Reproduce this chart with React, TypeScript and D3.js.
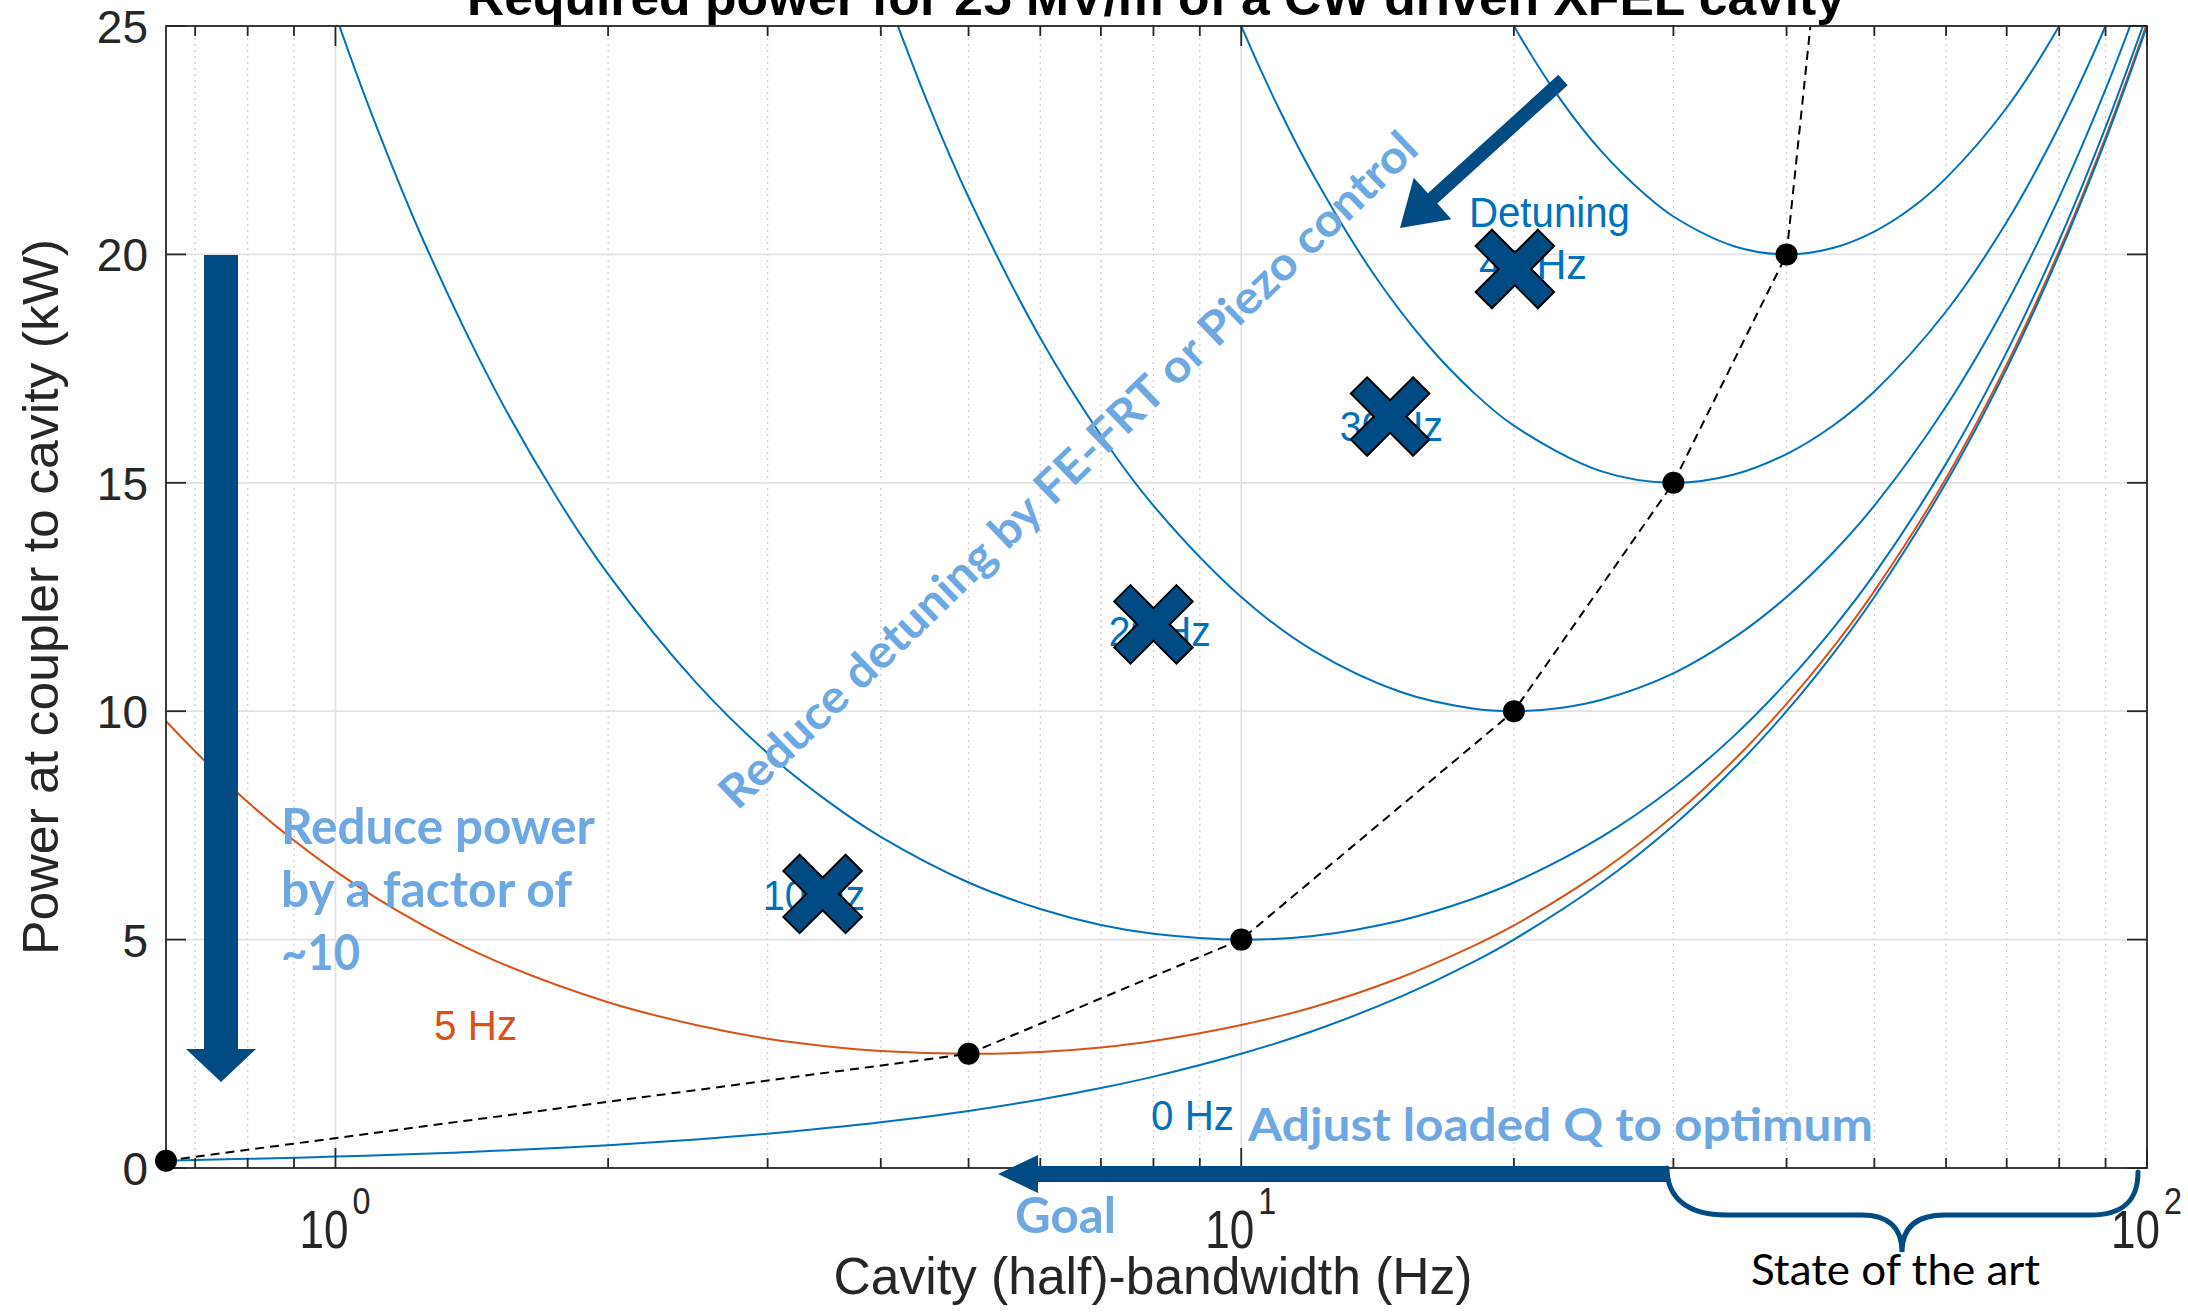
import React from 'react';
import * as d3 from 'd3';

const W = 2188;
const H = 1312;
const M = { left: 166, right: 2147, top: 26, bottom: 1168 };

// axes
const xDomain: [number, number] = [0.65, 100];
const yDomain: [number, number] = [0, 25];
const yTicks = [0, 5, 10, 15, 20, 25];
const xMajorTicks = [1, 10, 100];
const xMajorExp = ['0', '1', '2'];
const xMinorTicks = [0.7, 0.8, 0.9, 2, 3, 4, 5, 6, 7, 8, 9, 20, 30, 40, 50, 60, 70, 80, 90];

// series: [half-bandwidth Hz, power kW]
const detuning0Hz: [number, number][] = [
  [0.65, 0.16], [0.8, 0.2], [1, 0.25], [1.25, 0.31], [1.5, 0.375], [2, 0.5], [2.5, 0.625], [3, 0.75],
  [4, 1], [5, 1.25], [6, 1.5], [7, 1.75], [8, 2], [10, 2.5], [12, 3], [15, 3.75], [18, 4.5], [20, 5],
  [25, 6.25], [30, 7.5], [35, 8.75], [40, 10], [45, 11.25], [50, 12.5], [60, 15], [70, 17.5], [80, 20],
  [90, 22.5], [100, 25],
];
const detuning5Hz: [number, number][] = [
  [0.65, 9.78], [0.8, 8.01], [1, 6.5], [1.25, 5.31], [1.5, 4.54], [2, 3.63], [2.5, 3.13], [3, 2.83],
  [3.5, 2.66], [4, 2.56], [5, 2.5], [6, 2.54], [7, 2.64], [8, 2.78], [10, 3.13], [12, 3.52], [15, 4.17],
  [18, 4.85], [20, 5.31], [25, 6.5], [30, 7.71], [35, 8.93], [40, 10.16], [45, 11.39], [50, 12.63],
  [60, 15.1], [70, 17.59], [80, 20.08], [90, 22.57], [100, 25.06],
];
const detuning10Hz: [number, number][] = [
  [0.9, 28], [1, 25.25], [1.1, 23], [1.25, 20.31], [1.5, 17.04], [1.75, 14.72], [2, 13], [2.5, 10.63],
  [3, 9.08], [3.5, 8.02], [4, 7.25], [5, 6.25], [6, 5.67], [7, 5.32], [8, 5.13], [10, 5], [12, 5.08],
  [15, 5.42], [18, 5.89], [20, 6.25], [25, 7.25], [30, 8.33], [35, 9.46], [40, 10.63], [45, 11.81],
  [50, 13], [60, 15.42], [70, 17.86], [80, 20.31], [90, 22.78], [100, 25.25],
];
const detuning20Hz: [number, number][] = [
  [4, 26], [4.5, 23.35], [5, 21.25], [6, 18.17], [7, 16.04], [8, 14.5], [10, 12.5], [12, 11.33],
  [15, 10.42], [18, 10.06], [20, 10], [22.5, 10.07], [25, 10.25], [30, 10.83], [35, 11.61], [40, 12.5],
  [45, 13.47], [50, 14.5], [60, 16.67], [70, 18.93], [80, 21.25], [90, 23.61], [100, 26],
];
const detuning30Hz: [number, number][] = [
  [9, 27.25], [10, 25], [11, 23.2], [12, 21.75], [14, 19.57], [16, 18.06], [18, 17], [20, 16.25],
  [25, 15.25], [30, 15], [35, 15.18], [40, 15.63], [45, 16.25], [50, 17], [60, 18.75], [70, 20.71],
  [80, 22.81], [90, 25], [100, 27.25],
];
const detuning40Hz: [number, number][] = [
  [18, 26.72], [20, 25], [22.5, 23.4], [25, 22.25], [28, 21.29], [30, 20.83], [35, 20.18], [40, 20],
  [45, 20.14], [50, 20.5], [55, 21.02], [60, 21.67], [70, 23.21], [80, 25], [90, 26.94],
];
const optimumLine: [number, number][] = [
  [0.65, 0.16], [5, 2.5], [10, 5], [20, 10], [30, 15], [40, 20], [42.5, 25],
];
const optimumDots: [number, number][] = [
  [0.65, 0.16], [5, 2.5], [10, 5], [20, 10], [30, 15], [40, 20],
];

// annotation crosses (data coordinates) and their labels
const crossPoints: [number, number][] = [[3.45, 6.0], [8.0, 11.9], [14.6, 16.45], [20.05, 19.68]];
const detuneLabels: { text: string; f: number; p: number; color: string; len: number }[] = [
  { text: '10 Hz', f: 2.965, p: 5.65, color: '#0072BD', len: 102 },
  { text: '20 Hz', f: 7.14, p: 11.43, color: '#0072BD', len: 102 },
  { text: '30 Hz', f: 12.85, p: 15.92, color: '#0072BD', len: 103 },
  { text: '40 Hz', f: 18.3, p: 19.46, color: '#0072BD', len: 108 },
  { text: 'Detuning', f: 17.84, p: 20.6, color: '#0072BD', len: 161 },
  { text: '5 Hz', f: 1.285, p: 2.8, color: '#D95319', len: 83 },
  { text: '0 Hz', f: 7.95, p: 0.83, color: '#0072BD', len: 83 },
];

const BLUE = '#0072BD';
const ORANGE = '#D95319';
const NAVY = '#004B84';
const LIGHT = '#6EA8E2';
const AX = '#262626';
const SANS = '"Liberation Sans", Arial, Helvetica, sans-serif';
const CAL = 'Lato, "Open Sans", sans-serif';

function crossPath(cx: number, cy: number, l: number, s: number) {
  const plus = [
    [-s, -l], [s, -l], [s, -s], [l, -s], [l, s], [s, s],
    [s, l], [-s, l], [-s, s], [-l, s], [-l, -s], [-s, -s],
  ];
  const c = Math.SQRT1_2;
  const pts = plus.map(([px, py]) => [cx + (px - py) * c, cy + (px + py) * c]);
  return 'M' + pts.map((p) => `${p[0]},${p[1]}`).join('L') + 'Z';
}

function arrowPath(tx: number, ty: number, px: number, py: number, sw: number, hw: number, hl: number) {
  const dx = px - tx, dy = py - ty;
  const L = Math.hypot(dx, dy);
  const ux = dx / L, uy = dy / L;
  const nx = -uy, ny = ux;
  const bx = px - ux * hl, by = py - uy * hl;
  const pts = [
    [tx + nx * sw, ty + ny * sw],
    [bx + nx * sw, by + ny * sw],
    [bx + nx * hw, by + ny * hw],
    [px, py],
    [bx - nx * hw, by - ny * hw],
    [bx - nx * sw, by - ny * sw],
    [tx - nx * sw, ty - ny * sw],
  ];
  return 'M' + pts.map((p) => `${p[0]},${p[1]}`).join('L') + 'Z';
}

export default function App() {
  const x = d3.scaleLog().domain(xDomain).range([M.left, M.right]);
  const y = d3.scaleLinear().domain(yDomain).range([M.bottom, M.top]);
  const curve = d3
    .line<[number, number]>()
    .x((d) => x(d[0]))
    .y((d) => y(d[1]))
    .curve(d3.curveCatmullRom.alpha(0.5));
  const straight = d3
    .line<[number, number]>()
    .x((d) => x(d[0]))
    .y((d) => y(d[1]));

  const series = [
    { data: detuning40Hz, color: BLUE },
    { data: detuning30Hz, color: BLUE },
    { data: detuning20Hz, color: BLUE },
    { data: detuning10Hz, color: BLUE },
    { data: detuning5Hz, color: ORANGE },
    { data: detuning0Hz, color: BLUE },
  ];

  const bracePath =
    'M1667,1168 C1667,1200 1690,1215 1726,1215 L1862,1215 C1886,1215 1902,1226 1902,1252 ' +
    'C1902,1226 1918,1215 1945,1215 L2090,1215 C2124,1215 2138,1200 2138,1172';

  return (
    <svg
      width={W}
      height={H}
      viewBox={`0 0 ${W} ${H}`}
      style={{ position: 'absolute', left: 0, top: 0, background: '#fff' }}
    >
      <defs>
        <clipPath id="plotClip">
          <rect x={M.left} y={M.top} width={M.right - M.left} height={M.bottom - M.top} />
        </clipPath>
      </defs>
      <rect x={0} y={0} width={W} height={H} fill="#fff" />

      {/* grid */}
      <g>
        {xMinorTicks.map((t) => (
          <line key={'gm' + t} x1={x(t)} x2={x(t)} y1={M.top} y2={M.bottom} stroke="#cfcfcf" strokeWidth={1.3} strokeDasharray="2,4" />
        ))}
        {xMajorTicks.slice(0, 2).map((t) => (
          <line key={'gx' + t} x1={x(t)} x2={x(t)} y1={M.top} y2={M.bottom} stroke="#e2e2e2" strokeWidth={1.8} />
        ))}
        {yTicks.slice(1, -1).map((t) => (
          <line key={'gy' + t} x1={M.left} x2={M.right} y1={y(t)} y2={y(t)} stroke="#e2e2e2" strokeWidth={1.8} />
        ))}
      </g>

      {/* curves */}
      <g clipPath="url(#plotClip)">
        {series.map((s, i) => (
          <path key={i} d={curve(s.data) || ''} fill="none" stroke={s.color} strokeWidth={2} />
        ))}
        <path d={straight(optimumLine) || ''} fill="none" stroke="#000" strokeWidth={2} strokeDasharray="9,6" />
      </g>

      {/* axes box and ticks */}
      <g stroke={AX} strokeWidth={1.8} fill="none">
        <rect x={M.left} y={M.top} width={M.right - M.left} height={M.bottom - M.top} />
        {xMajorTicks.map((t) => (
          <g key={'tx' + t}>
            <line x1={x(t)} x2={x(t)} y1={M.bottom} y2={M.bottom - 20} />
            <line x1={x(t)} x2={x(t)} y1={M.top} y2={M.top + 20} />
          </g>
        ))}
        {xMinorTicks.map((t) => (
          <g key={'tm' + t}>
            <line x1={x(t)} x2={x(t)} y1={M.bottom} y2={M.bottom - 10} />
            <line x1={x(t)} x2={x(t)} y1={M.top} y2={M.top + 10} />
          </g>
        ))}
        {yTicks.map((t) => (
          <g key={'ty' + t}>
            <line x1={M.left} x2={M.left + 20} y1={y(t)} y2={y(t)} />
            <line x1={M.right} x2={M.right - 20} y1={y(t)} y2={y(t)} />
          </g>
        ))}
      </g>

      {/* dots */}
      {optimumDots.map((d, i) => (
        <circle key={'d' + i} cx={x(d[0])} cy={y(d[1])} r={11} fill="#000" />
      ))}

      {/* tick labels */}
      <g fontFamily={SANS} fill={AX}>
        {yTicks.map((t) => (
          <text key={'yl' + t} x={148} y={y(t) + 17} fontSize={46} textAnchor="end">
            {t}
          </text>
        ))}
        {xMajorTicks.map((t, i) => (
          <g key={'xl' + t}>
            <text x={x(t) - 36} y={1248} fontSize={54} textLength={49} lengthAdjust="spacingAndGlyphs">10</text>
            <text x={x(t) + 17} y={1214} fontSize={36} textLength={18} lengthAdjust="spacingAndGlyphs">{xMajorExp[i]}</text>
          </g>
        ))}
      </g>

      {/* axis labels & title */}
      <text
        x={1153}
        y={1294}
        fontFamily={SANS}
        fontSize={52}
        fill={AX}
        textAnchor="middle"
        textLength={639}
        lengthAdjust="spacingAndGlyphs"
      >
        Cavity (half)-bandwidth (Hz)
      </text>
      <text
        transform="translate(58,597) rotate(-90)"
        fontFamily={SANS}
        fontSize={50}
        fill={AX}
        textAnchor="middle"
        textLength={716}
        lengthAdjust="spacingAndGlyphs"
      >
        Power at coupler to cavity (kW)
      </text>
      <text
        x={1156}
        y={15}
        fontFamily={SANS}
        fontSize={50}
        fontWeight="bold"
        fill="#000"
        textAnchor="middle"
        textLength={1378}
        lengthAdjust="spacingAndGlyphs"
      >
        Required power for 25 MV/m of a CW driven XFEL cavity
      </text>

      {/* detuning labels */}
      <g fontFamily={SANS} fontSize={42}>
        {detuneLabels.map((l) => (
          <text key={l.text} x={x(l.f)} y={y(l.p)} fill={l.color} textLength={l.len} lengthAdjust="spacingAndGlyphs">
            {l.text}
          </text>
        ))}
      </g>

      {/* crosses */}
      {crossPoints.map((c, i) => (
        <path key={'c' + i} d={crossPath(x(c[0]), y(c[1]), 44, 11.5)} fill={NAVY} stroke="#000" strokeWidth={2} strokeLinejoin="miter" />
      ))}

      {/* arrows */}
      <path d={arrowPath(221, 255, 221, 1082, 17, 35, 33)} fill={NAVY} />
      <path d={arrowPath(1563, 80, 1400, 228, 7, 28, 44)} fill={NAVY} />
      <path d={arrowPath(1667, 1174, 998, 1174, 8, 19, 40)} fill={NAVY} />
      <path d={bracePath} fill="none" stroke={NAVY} strokeWidth={5} strokeLinecap="round" />

      {/* annotation texts */}
      <g fontFamily={CAL} fontWeight="bold" fill={LIGHT}>
        <text x={281} y={844} fontSize={49} textLength={314} lengthAdjust="spacingAndGlyphs">Reduce power</text>
        <text x={281} y={907} fontSize={49} textLength={291} lengthAdjust="spacingAndGlyphs">by a factor of</text>
        <text x={281} y={970} fontSize={49} textLength={79} lengthAdjust="spacingAndGlyphs">~10</text>
        <text x={1248} y={1141} fontSize={46} textLength={625} lengthAdjust="spacingAndGlyphs">Adjust loaded Q to optimum</text>
        <text x={1015} y={1233} fontSize={49} textLength={101} lengthAdjust="spacingAndGlyphs">Goal</text>
        <text
          transform="translate(1068,470) rotate(-44)"
          x={0}
          y={16}
          fontSize={46}
          textAnchor="middle"
          textLength={950}
          lengthAdjust="spacingAndGlyphs"
        >
          Reduce detuning by FE-FRT or Piezo control
        </text>
      </g>
      <text x={1751} y={1285} fontFamily={CAL} fontSize={43} fill="#000" textLength={289} lengthAdjust="spacingAndGlyphs">
        State of the art
      </text>
    </svg>
  );
}
